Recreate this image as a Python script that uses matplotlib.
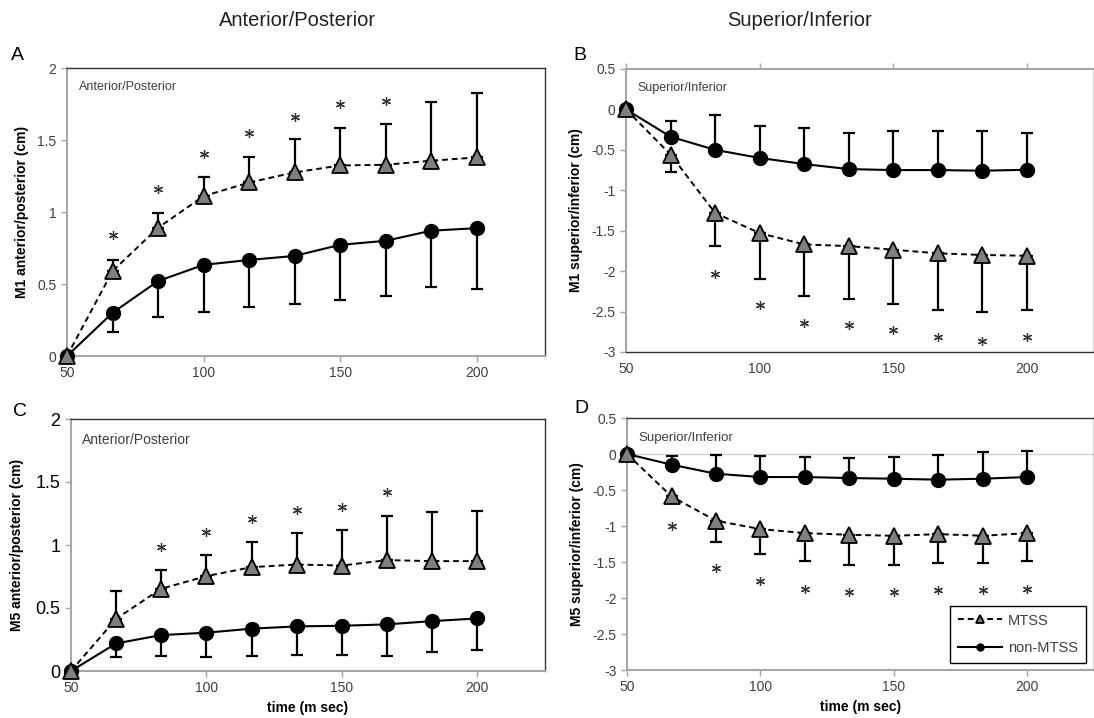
import matplotlib
matplotlib.use("Agg")
import matplotlib.pyplot as plt
import numpy as np

plt.rcParams['font.family'] = ['Liberation Sans', 'DejaVu Sans']

time_ms = [50, 66.7, 83.3, 100, 116.7, 133.3, 150, 166.7, 183.3, 200]

# Panel A: M1 anterior/posterior
a_mtss = [0, 0.59, 0.89, 1.11, 1.205, 1.275, 1.323, 1.328, 1.356, 1.379]
a_mtss_sd = [0, 0.077, 0.10, 0.13, 0.18, 0.23, 0.26, 0.28, 0.41, 0.45]
a_non = [0, 0.30, 0.52, 0.633, 0.667, 0.695, 0.772, 0.80, 0.87, 0.888]
a_non_sd = [0, 0.13, 0.25, 0.325, 0.324, 0.336, 0.383, 0.383, 0.393, 0.425]
a_star_x = [66.7, 83.3, 100, 116.7, 133.3, 150, 166.7]
a_star_y = [0.84, 1.16, 1.40, 1.55, 1.66, 1.75, 1.77]

# Panel B: M1 superior/inferior
b_mtss = [0, -0.56, -1.28, -1.53, -1.67, -1.69, -1.735, -1.78, -1.80, -1.81]
b_mtss_sd = [0, 0.21, 0.41, 0.57, 0.64, 0.65, 0.675, 0.70, 0.71, 0.67]
b_non = [0, -0.338, -0.50, -0.60, -0.676, -0.738, -0.75, -0.75, -0.758, -0.746]
b_non_sd = [0, 0.20, 0.43, 0.40, 0.45, 0.45, 0.48, 0.48, 0.49, 0.46]
b_star_x = [83.3, 100, 116.7, 133.3, 150, 166.7, 183.3, 200]
b_star_y = [-2.03, -2.42, -2.64, -2.67, -2.73, -2.82, -2.86, -2.82]

# Panel C: M5 anterior/posterior
c_mtss = [0, 0.415, 0.653, 0.753, 0.824, 0.845, 0.837, 0.88, 0.872, 0.872]
c_mtss_sd = [0, 0.22, 0.15, 0.17, 0.20, 0.25, 0.28, 0.35, 0.39, 0.40]
c_non = [0, 0.219, 0.285, 0.304, 0.336, 0.354, 0.359, 0.37, 0.396, 0.417]
c_non_sd = [0, 0.105, 0.166, 0.193, 0.217, 0.23, 0.23, 0.25, 0.248, 0.25]
c_star_x = [83.3, 100, 116.7, 133.3, 150, 166.7]
c_star_y = [0.985, 1.10, 1.21, 1.276, 1.30, 1.42]

# Panel D: M5 superior/inferior
d_mtss = [0, -0.589, -0.927, -1.043, -1.099, -1.122, -1.136, -1.113, -1.136, -1.099]
d_mtss_sd = [0, 0.05, 0.29, 0.35, 0.385, 0.417, 0.403, 0.394, 0.38, 0.385]
d_non = [0, -0.148, -0.274, -0.32, -0.32, -0.334, -0.343, -0.357, -0.343, -0.32]
d_non_sd = [0, 0.125, 0.264, 0.297, 0.274, 0.274, 0.297, 0.343, 0.371, 0.366]
d_star_x = [66.7, 83.3, 100, 116.7, 133.3, 150, 166.7, 183.3, 200]
d_star_y = [-1.006, -1.585, -1.77, -1.87, -1.91, -1.91, -1.887, -1.887, -1.87]

xticks = [50, 100, 150, 200]
ap_yticks = [0, 0.5, 1, 1.5, 2]
si_yticks = [0.5, 0, -0.5, -1, -1.5, -2, -2.5, -3]

fig = plt.figure(figsize=(10.94, 7.18), dpi=100)
W, H = 1094, 718


def ax_at(l, t, r, b):
    return fig.add_axes([l / W, 1 - b / H, (r - l) / W, (b - t) / H])


GRAY = '#a6a6a6'
TXT = '#404040'


def draw(ax, mtss, mtss_sd, non, non_sd, sx, sy, up_mtss):
    x = np.array(time_ms)
    mtss = np.array(mtss); non = np.array(non)
    msd = np.array(mtss_sd); nsd = np.array(non_sd)
    z = np.zeros_like(msd)
    if up_mtss:
        merr = [z, msd]; nerr = [nsd, z]
    else:
        merr = [msd, z]; nerr = [z, nsd]
    mask_m = msd > 0
    mask_n = nsd > 0
    ax.errorbar(x[mask_m], mtss[mask_m], yerr=[e[mask_m] for e in merr], fmt='none',
                ecolor='black', elinewidth=1.6, capsize=4, capthick=1.6, zorder=4)
    ax.errorbar(x[mask_n], non[mask_n], yerr=[e[mask_n] for e in nerr], fmt='none',
                ecolor='black', elinewidth=1.6, capsize=4, capthick=1.6, zorder=4)
    ax.plot(x, non, '-', color='black', lw=1.5, marker='o', ms=10,
            mfc='black', mec='black', zorder=3, label='non-MTSS', clip_on=False)
    ax.plot(x, mtss, '--', color='black', lw=1.4, marker='^', ms=12,
            mfc='#7f7f7f', mec='black', mew=1.3, zorder=5, label='MTSS', dashes=(3, 2),
            clip_on=False)
    ax.plot(sx, sy, linestyle='none', marker=(6, 2, 0), ms=6.5, mec='#333333', mew=0.9, zorder=6)
    ax.set_xlim(50, 225)
    ax.set_xticks(xticks)
    for s in ['top', 'right']:
        ax.spines[s].set_color('#333333')
        ax.spines[s].set_linewidth(1.0)
    for s in ['left', 'bottom']:
        ax.spines[s].set_color(GRAY)
        ax.spines[s].set_linewidth(1.5)
    ax.tick_params(colors=GRAY, labelcolor=TXT, length=4, width=1)


# Panel A
axA = ax_at(67, 68, 545, 356)
draw(axA, a_mtss, a_mtss_sd, a_non, a_non_sd, a_star_x, a_star_y, True)
axA.set_ylim(0, 2)
axA.set_yticks(ap_yticks)
axA.set_yticklabels(['0', '0.5', '1', '1.5', '2'])
axA.tick_params(labelsize=10)
axA.set_ylabel('M1 anterior/posterior (cm)', fontsize=10, fontweight='bold', labelpad=6)
axA.text(0.024, 0.955, 'Anterior/Posterior', transform=axA.transAxes, fontsize=9,
         color=TXT, va='top', ha='left')

# Panel B
axB = ax_at(626, 69, 1094, 352)
draw(axB, b_mtss, b_mtss_sd, b_non, b_non_sd, b_star_x, b_star_y, False)
axB.set_ylim(-3, 0.5)
axB.set_yticks(si_yticks)
axB.set_yticklabels(['0.5', '0', '-0.5', '-1', '-1.5', '-2', '-2.5', '-3'])
axB.spines['top'].set_color(GRAY)
axB.spines['top'].set_linewidth(1.5)
axB.spines['bottom'].set_color('#333333')
axB.spines['bottom'].set_linewidth(1.0)
axB.tick_params(axis='x', top=True, bottom=False)
axB.tick_params(labelsize=10)
axB.set_ylabel('M1 superior/inferior (cm)', fontsize=10, fontweight='bold', labelpad=6)
axB.text(0.024, 0.955, 'Superior/Inferior', transform=axB.transAxes, fontsize=9,
         color=TXT, va='top', ha='left')

# Panel C
axC = ax_at(71, 419, 545, 671)
draw(axC, c_mtss, c_mtss_sd, c_non, c_non_sd, c_star_x, c_star_y, True)
axC.set_ylim(0, 2)
axC.set_yticks(ap_yticks)
axC.set_yticklabels(['0', '0.5', '1', '1.5', '2'])
axC.tick_params(axis='y', labelsize=13, labelcolor='black')
axC.tick_params(axis='x', labelsize=10)
axC.set_ylabel('M5 anterior/posterior (cm)', fontsize=10, fontweight='bold', labelpad=8)
axC.set_xlabel('time (m sec)', fontsize=10, fontweight='bold', labelpad=4)
axC.text(0.024, 0.945, 'Anterior/Posterior', transform=axC.transAxes, fontsize=10,
         color=TXT, va='top', ha='left')

# Panel D
axD = ax_at(627, 418, 1094, 670)
draw(axD, d_mtss, d_mtss_sd, d_non, d_non_sd, d_star_x, d_star_y, False)
axD.set_ylim(-3, 0.5)
axD.set_yticks(si_yticks)
axD.set_yticklabels(['0.5', '0', '-0.5', '-1', '-1.5', '-2', '-2.5', '-3'])
axD.axhline(0, color='#d0d0d0', lw=1.0, zorder=1)
axD.tick_params(labelsize=10)
axD.set_ylabel('M5 superior/inferior (cm)', fontsize=10, fontweight='bold', labelpad=6)
axD.set_xlabel('time (m sec)', fontsize=10, fontweight='bold', labelpad=4)
axD.text(0.024, 0.945, 'Superior/Inferior', transform=axD.transAxes, fontsize=9.5,
         color=TXT, va='top', ha='left')
handles, labels = axD.get_legend_handles_labels()
leg = axD.legend([handles[1], handles[0]], [labels[1], labels[0]], loc='lower right',
                 bbox_to_anchor=(0.998, 0.0), borderaxespad=0.5, fontsize=10.5,
                 frameon=True, fancybox=False, edgecolor='black', handlelength=3.0,
                 handletextpad=0.4, markerscale=0.5, borderpad=0.55, labelspacing=0.9,
                 framealpha=1)
leg.get_frame().set_linewidth(1.0)
for t in leg.get_texts():
    t.set_color(TXT)

# Column titles and panel letters
fig.text(298 / W, 1 - 20 / H, 'Anterior/Posterior', fontsize=14.5, ha='center', va='center', color='#222222')
fig.text(800 / W, 1 - 20 / H, 'Superior/Inferior', fontsize=14.5, ha='center', va='center', color='#222222')
fig.text(17 / W, 1 - 55 / H, 'A', fontsize=14, ha='center', va='center')
fig.text(580 / W, 1 - 55 / H, 'B', fontsize=14, ha='center', va='center')
fig.text(20 / W, 1 - 412 / H, 'C', fontsize=14, ha='center', va='center')
fig.text(581 / W, 1 - 409 / H, 'D', fontsize=14, ha='center', va='center')

fig.savefig('out.png', dpi=100)
